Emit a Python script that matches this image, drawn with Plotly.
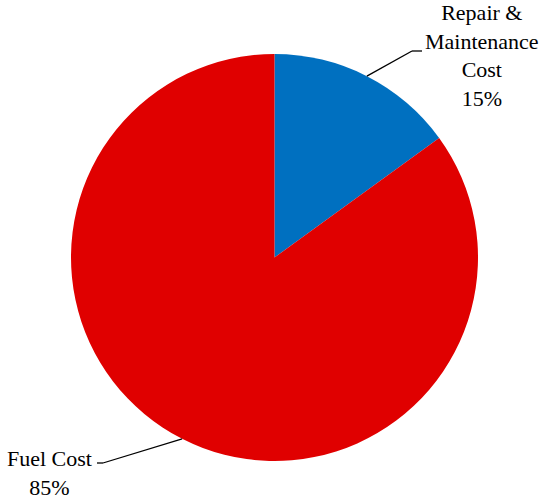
import math
import plotly.graph_objects as go

# data
labels = ["Repair &<br>Maintenance<br>Cost", "Fuel Cost"]
values = [15, 85]
colors = ["#0070C0", "#E00000"]

W, H = 550, 501
cx, cy, r = 274.5, 257.5, 203.5  # pie centre / radius in pixels


def px(x, y):
    return x / W, 1 - y / H


fig = go.Figure(go.Pie(
    labels=labels, values=values, sort=False, direction="clockwise", rotation=0,
    marker=dict(colors=colors, line=dict(width=0)),
    textinfo="none", hoverinfo="label+percent",
    domain=dict(x=[(cx - r) / W, (cx + r) / W], y=[1 - (cy + r) / H, 1 - (cy - r) / H]),
))

# label placement (pixels): elbow point, end of horizontal tick, text position
label_pos = [
    dict(elbow=(412, 51), end=(422, 51), text=(482, 56), anchor="center"),
    dict(elbow=(103, 463), end=(97, 463), text=(94, 473), anchor="right"),
]

total = sum(values)
start = 0
for lab, v, lp in zip(labels, values, label_pos):
    mid = (start + v / 2) / total * 2 * math.pi
    start += v
    ex, ey = cx + r * math.sin(mid), cy - r * math.cos(mid)
    pts = [(ex, ey), lp["elbow"], lp["end"]]
    for (x0, y0), (x1, y1) in zip(pts[:-1], pts[1:]):
        a0, b0 = px(x0, y0)
        a1, b1 = px(x1, y1)
        fig.add_shape(type="line", xref="paper", yref="paper", x0=a0, y0=b0, x1=a1, y1=b1,
                      line=dict(color="black", width=1.3))
    tx, ty = px(*lp["text"])
    fig.add_annotation(x=tx, y=ty, xref="paper", yref="paper", showarrow=False,
                       text=f"{lab}<br>{round(v / total * 100)}%", align="center",
                       xanchor=lp["anchor"], yanchor="middle",
                       font=dict(family="Liberation Serif", size=22, color="black"))

fig.update_layout(width=W, height=H, margin=dict(l=0, r=0, t=0, b=0),
                  showlegend=False, paper_bgcolor="white", plot_bgcolor="white")

# drop the browser's default body margin so the figure sits at the page corner
fig.write_html("out.html", config={"displayModeBar": False},
               post_script="document.body.style.margin='0';")
